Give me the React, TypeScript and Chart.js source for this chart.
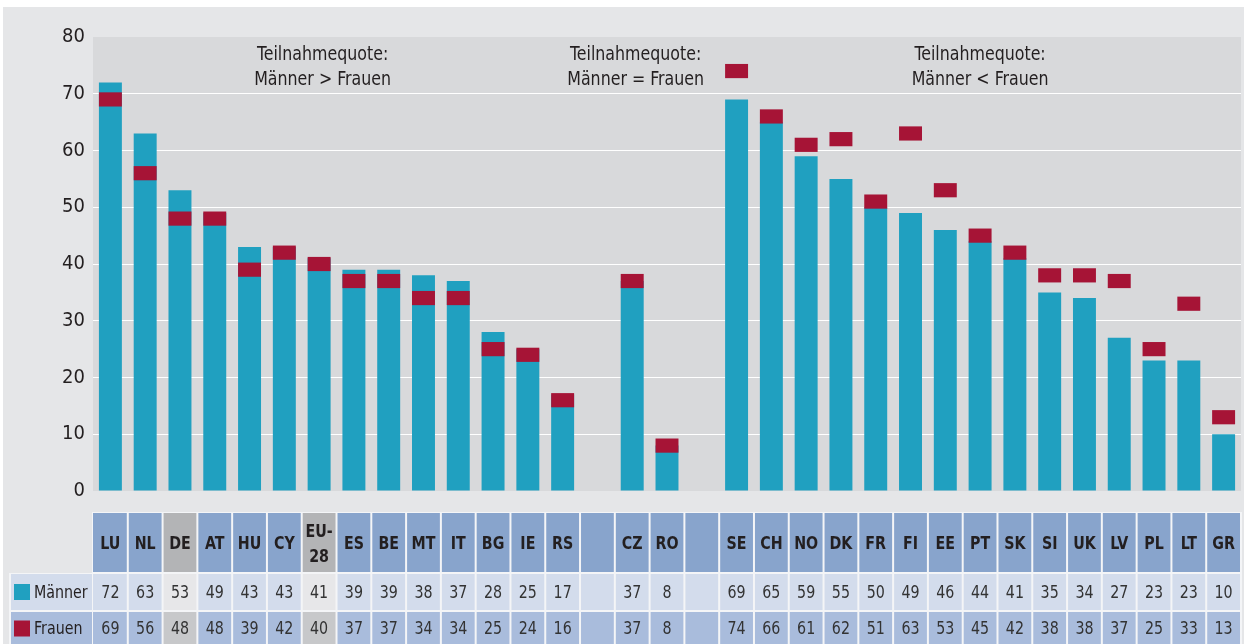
import { useEffect, useRef } from "react";
import { Chart, registerables } from "chart.js";

Chart.register(...registerables);

// ---- data ----
const categories = [
  "LU", "NL", "DE", "AT", "HU", "CY", "EU-28", "ES", "BE", "MT", "IT", "BG", "IE", "RS",
  "",
  "CZ", "RO",
  "",
  "SE", "CH", "NO", "DK", "FR", "FI", "EE", "PT", "SK", "SI", "UK", "LV", "PL", "LT", "GR",
];
const maenner: (number | null)[] = [
  72, 63, 53, 49, 43, 43, 41, 39, 39, 38, 37, 28, 25, 17,
  null,
  37, 8,
  null,
  69, 65, 59, 55, 50, 49, 46, 44, 41, 35, 34, 27, 23, 23, 10,
];
const frauen: (number | null)[] = [
  69, 56, 48, 48, 39, 42, 40, 37, 37, 34, 34, 25, 24, 16,
  null,
  37, 8,
  null,
  74, 66, 61, 62, 51, 63, 53, 45, 42, 38, 38, 37, 25, 33, 13,
];
const highlighted = ["DE", "EU-28"];
const yTickValues = [0, 10, 20, 30, 40, 50, 60, 70, 80];
const seriesNames = ["Männer", "Frauen"];
const groupNoteLines = [
  ["Teilnahmequote:", "Männer > Frauen"],
  ["Teilnahmequote:", "Männer = Frauen"],
  ["Teilnahmequote:", "Männer < Frauen"],
];

// ---- layout / style (not data) ----
const noteCenters = [6.1, 15.1, 25.0]; // category-index positions of the notes
const markerHalf = 1.25;
const SX = 0.88; // horizontal condensing of drawn text
const FONT = "'Liberation Sans Narrow', 'DejaVu Sans Condensed', 'Liberation Sans', sans-serif";
const C = {
  outer: "#e5e6e8",
  plot: "#d8d9db",
  teal: "#20a0c0",
  red: "#a61436",
  text: "#231f20",
  sep: "#f4f5f7",
  head: "#88a4cc",
  headHi: "#b3b4b6",
  rowM: "#d3dcec",
  rowMHi: "#e7e7e9",
  rowF: "#a9bcdc",
  rowFHi: "#c7c8ca",
};

function drawText(ctx: CanvasRenderingContext2D, t: string, x: number, y: number) {
  ctx.save();
  ctx.translate(x, y);
  ctx.scale(SX, 1);
  ctx.fillText(t, 0, 0);
  ctx.restore();
}

const bgPlugin = {
  id: "bgPlugin",
  beforeDraw(chart: any) {
    const { ctx, chartArea: a } = chart;
    ctx.save();
    ctx.fillStyle = C.outer;
    ctx.fillRect(3, 7, chart.width - 3, chart.height - 7);
    ctx.fillStyle = C.plot;
    ctx.fillRect(a.left, a.top, a.right - a.left, a.bottom - a.top);
    ctx.restore();
  },
};

const tablePlugin = {
  id: "tablePlugin",
  afterDraw(chart: any) {
    const { ctx } = chart;
    const xs = chart.scales.x;
    const n = categories.length;
    const w = (xs.right - xs.left) / n;
    const edge = (i: number) => xs.getPixelForValue(i) - w / 2;
    ctx.save();

    // group notes
    ctx.fillStyle = C.text;
    ctx.font = `20px ${FONT}`;
    ctx.textAlign = "center";
    ctx.textBaseline = "middle";
    groupNoteLines.forEach((lines, g) => {
      const cx = xs.getPixelForValue(0) + noteCenters[g] * w;
      lines.forEach((t, k) => drawText(ctx, t, cx, 55 + k * 25));
    });

    // table
    const rows = [
      [512, 573],
      [573, 611],
      [611, 646],
    ];
    const left = edge(0);
    const right = edge(n - 1) + w;
    ctx.fillStyle = C.sep;
    ctx.fillRect(left - 1, rows[0][0], right - left + 2, 644 - rows[0][0]);
    ctx.fillRect(9, rows[1][0], left - 9, 644 - rows[1][0]);

    // label column
    const labelCols = [C.rowM, C.rowF];
    const markerCols = [C.teal, C.red];
    for (let r = 0; r < 2; r++) {
      const [y0, y1] = rows[r + 1];
      ctx.fillStyle = labelCols[r];
      ctx.fillRect(11, y0 + 1, left - 12, y1 - y0 - 2);
      const cy = (y0 + y1) / 2;
      ctx.fillStyle = markerCols[r];
      ctx.fillRect(14, cy - 8, 16, 16);
      ctx.fillStyle = C.text;
      ctx.font = `18px ${FONT}`;
      ctx.textAlign = "left";
      drawText(ctx, seriesNames[r], 34, cy + 1);
    }

    for (let i = 0; i < n; i++) {
      const x0 = i === 0 ? edge(i) : edge(i) + 1;
      const x1 = edge(i) + w - 1;
      const cx = xs.getPixelForValue(i);
      const hi = highlighted.includes(categories[i]);
      const fills = hi ? [C.headHi, C.rowMHi, C.rowFHi] : [C.head, C.rowM, C.rowF];
      for (let r = 0; r < 3; r++) {
        const [y0, y1] = rows[r];
        ctx.fillStyle = fills[r];
        ctx.fillRect(x0, y0 + 1, x1 - x0, y1 - y0 - 2);
      }
      ctx.fillStyle = C.text;
      ctx.textAlign = "center";
      // header
      ctx.font = `bold 18px ${FONT}`;
      const lab = categories[i];
      if (lab.includes("-")) {
        const parts = lab.split("-");
        drawText(ctx, parts[0] + "-", cx, 532);
        drawText(ctx, parts[1], cx, 557);
      } else if (lab) {
        drawText(ctx, lab, cx, 544);
      }
      ctx.font = `18px ${FONT}`;
      ctx.fillStyle = "#333333";
      const vals = [maenner[i], frauen[i]];
      for (let r = 0; r < 2; r++) {
        const v = vals[r];
        if (v == null) continue;
        const [y0, y1] = rows[r + 1];
        drawText(ctx, String(v), cx, (y0 + y1) / 2 + 1);
      }
    }
    ctx.restore();
  },
};

export default function App() {
  const ref = useRef<HTMLCanvasElement | null>(null);

  useEffect(() => {
    document.body.style.margin = "0";
    document.body.style.overflow = "hidden";
    const canvas = ref.current;
    if (!canvas) return;
    const chart = new Chart(canvas, {
      type: "bar",
      data: {
        labels: categories,
        datasets: [
          {
            label: seriesNames[0],
            data: maenner as any,
            backgroundColor: C.teal,
            order: 2,
            categoryPercentage: 0.66,
            barPercentage: 1,
          },
          {
            label: seriesNames[1],
            data: frauen.map((v) => (v == null ? null : [v - markerHalf, v + markerHalf])) as any,
            backgroundColor: C.red,
            order: 1,
            categoryPercentage: 0.66,
            barPercentage: 1,
          },
        ],
      },
      plugins: [bgPlugin, tablePlugin],
      options: {
        animation: false,
        responsive: true,
        maintainAspectRatio: false,
        devicePixelRatio: 1,
        layout: { padding: { left: 0, top: 37, right: 3, bottom: 153 } },
        plugins: {
          legend: { display: false },
          tooltip: { enabled: false },
          title: { display: false },
        },
        scales: {
          x: {
            display: false,
            stacked: true,
            offset: true,
          },
          y: {
            stacked: false,
            min: 0,
            max: 80,
            afterFit: (s: any) => {
              s.width = 93;
            },
            afterBuildTicks: (s: any) => {
              s.ticks = yTickValues.map((v) => ({ value: v }));
            },
            border: { display: false },
            grid: {
              drawTicks: false,
              lineWidth: 1,
              color: (c: any) =>
                c.tick && (c.tick.value === 0 || c.tick.value === 80) ? "rgba(0,0,0,0)" : "#ffffff",
            },
            ticks: {
              padding: 8,
              color: C.text,
              font: { family: FONT, size: 20 },
            },
          },
        },
      },
    });
    return () => chart.destroy();
  }, []);

  return (
    <div style={{ position: "absolute", left: 0, top: 0, width: 1244, height: 644 }}>
      <canvas ref={ref} />
    </div>
  );
}
